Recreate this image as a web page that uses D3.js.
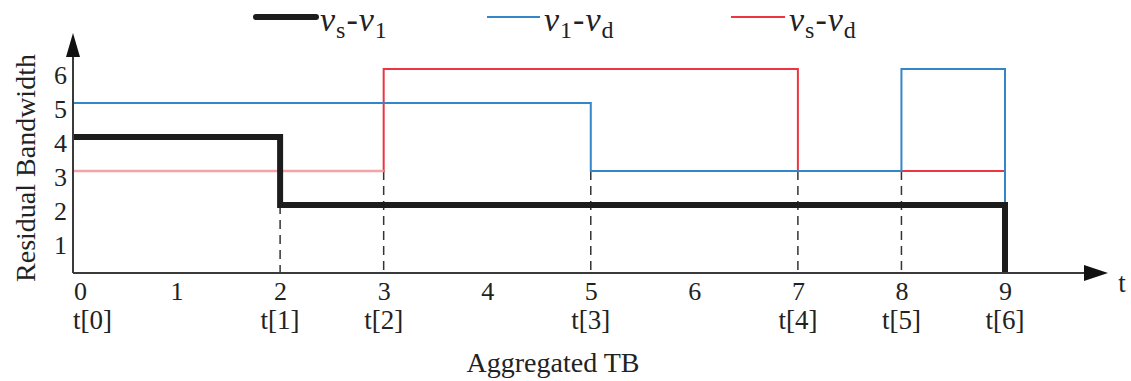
<!DOCTYPE html>
<html>
<head>
<meta charset="utf-8">
<script src="https://cdn.jsdelivr.net/npm/d3@7"></script>
<style>
  html, body { margin: 0; padding: 0; background: #fff; }
  svg { display: block; font-family: "Liberation Serif", "Times New Roman", serif; }
</style>
</head>
<body>
<svg id="chart" width="1131" height="381"></svg>
<script>
// Time axis ticks and the marked transmission instants
const xTicks = [0, 1, 2, 3, 4, 5, 6, 7, 8, 9];
const yTicks = [1, 2, 3, 4, 5, 6];
const tMarks = [0, 2, 3, 5, 7, 8, 9];
const tLabels = ["t[0]", "t[1]", "t[2]", "t[3]", "t[4]", "t[5]", "t[6]"];

// Residual bandwidth of each link pair (step changes at these times)
const vsV1Times = [0, 2, 9];
const vsV1Values = [4, 2, 0];
const v1VdTimes = [0, 5, 8, 9];
const v1VdValues = [5, 3, 6, 2];
const vsVdTimes = [0, 3, 7, 9];
const vsVdValues = [3, 6, 3, 3];

// Dashed guide lines: time and the level they rise to
const guideTimes = [2, 3, 5, 7, 8];
const guideLevels = [2, 3, 3, 3, 3];

const svg = d3.select("#chart");
const x = d3.scaleLinear().domain([0, 9]).range([73, 1005]);
const y = d3.scaleLinear().domain([0, 6]).range([273, 69]);

const axisColor = "#3a3a3a";
const textColor = "#222";

// Dashed guides
svg.append("g").selectAll("line")
  .data(guideTimes.map((t, i) => ({ t, v: guideLevels[i] })))
  .join("line")
  .attr("x1", d => x(d.t)).attr("x2", d => x(d.t))
  .attr("y1", d => y(d.v)).attr("y2", y(0))
  .attr("stroke", "#333").attr("stroke-width", 1.5)
  .attr("stroke-dasharray", "9,6");

const toPts = (ts, vs) => ts.map((t, i) => ({ t, v: vs[i] }));
const step = d3.line().x(d => x(d.t)).y(d => y(d.v)).curve(d3.curveStepAfter);

// v_s - v_d (red); the opening level is drawn paler
const redPts = toPts(vsVdTimes, vsVdValues);
svg.append("path").attr("d", step(redPts))
  .attr("fill", "none").attr("stroke", "#ec3540").attr("stroke-width", 2);
svg.append("path")
  .attr("d", d3.line().x(d => x(d.t)).y(d => y(d.v))([
    { t: vsVdTimes[0], v: vsVdValues[0] }, { t: vsVdTimes[1], v: vsVdValues[0] }]))
  .attr("fill", "none").attr("stroke", "#f5a3a6").attr("stroke-width", 2.5);

// v_1 - v_d (blue)
svg.append("path").attr("d", step(toPts(v1VdTimes, v1VdValues)))
  .attr("fill", "none").attr("stroke", "#3586c8").attr("stroke-width", 2);

// v_s - v_1 (black, thick)
svg.append("path").attr("d", step(toPts(vsV1Times, vsV1Values)))
  .attr("fill", "none").attr("stroke", "#1c1c1c").attr("stroke-width", 6)
  .attr("stroke-linejoin", "miter");

// Axes with arrowheads
const xEnd = 1108, yTop = 33;
svg.append("line").attr("x1", x(0)).attr("x2", xEnd - 20)
  .attr("y1", y(0)).attr("y2", y(0))
  .attr("stroke", axisColor).attr("stroke-width", 2);
svg.append("path")
  .attr("d", `M${xEnd},${y(0)} L${xEnd - 24},${y(0) - 8} L${xEnd - 24},${y(0) + 8} Z`)
  .attr("fill", "#111");
svg.append("line").attr("x1", x(0)).attr("x2", x(0))
  .attr("y1", y(0)).attr("y2", yTop + 20)
  .attr("stroke", axisColor).attr("stroke-width", 2);
svg.append("path")
  .attr("d", `M${x(0)},${yTop} L${x(0) - 7},${yTop + 24} L${x(0) + 7},${yTop + 24} Z`)
  .attr("fill", "#111");

// Tick labels
const xAxis = svg.append("g").attr("transform", `translate(0,${y(0)})`)
  .call(d3.axisBottom(x).tickValues(xTicks).tickSize(0).tickPadding(0).tickFormat(d3.format("d")));
xAxis.select(".domain").remove();
xAxis.selectAll("text")
  .attr("y", 27).attr("dy", null)
  .attr("dx", d => d === 0 ? 7 : 0)
  .attr("font-size", 26).attr("font-family", "Liberation Serif").attr("fill", textColor);

const yAxis = svg.append("g").attr("transform", `translate(${x(0)},0)`)
  .call(d3.axisLeft(y).tickValues(yTicks).tickSize(0).tickPadding(6).tickFormat(d3.format("d")));
yAxis.select(".domain").remove();
yAxis.selectAll("text")
  .attr("dy", "0.55em")
  .attr("font-size", 26).attr("font-family", "Liberation Serif").attr("fill", textColor);

// t[i] labels under the marked instants
svg.append("g").selectAll("text")
  .data(tMarks.map((t, i) => ({ t, label: tLabels[i] })))
  .join("text")
  .attr("x", d => x(d.t))
  .attr("y", 329)
  .attr("text-anchor", d => d.t === 0 ? "start" : "middle")
  .attr("font-size", 27).attr("fill", textColor)
  .text(d => d.label);

// Axis titles
svg.append("text").attr("x", 1122).attr("y", 292)
  .attr("text-anchor", "middle").attr("font-size", 27).attr("fill", textColor).text("t");
svg.append("text").attr("x", 553).attr("y", 372)
  .attr("text-anchor", "middle").attr("font-size", 28).attr("fill", textColor)
  .text("Aggregated TB");
svg.append("text")
  .attr("transform", "translate(35,168) rotate(-90)")
  .attr("text-anchor", "middle").attr("font-size", 28).attr("fill", textColor)
  .text("Residual Bandwidth");

// Legend
const legendItems = [
  { a: "s", b: "1", color: "#1c1c1c", width: 6, x0: 256, x1: 316 },
  { a: "1", b: "d", color: "#3586c8", width: 2, x0: 487, x1: 540 },
  { a: "s", b: "d", color: "#ec3540", width: 2, x0: 731, x1: 785 }
];
const lg = svg.append("g").selectAll("g").data(legendItems).join("g");
lg.append("line")
  .attr("x1", d => d.x0).attr("x2", d => d.x1)
  .attr("y1", 17).attr("y2", 17)
  .attr("stroke", d => d.color).attr("stroke-width", d => d.width)
  .attr("stroke-linecap", d => d.width > 3 ? "round" : "butt");
const lt = lg.append("text")
  .attr("x", d => d.x1 + 4).attr("y", 31)
  .attr("font-size", 34).attr("letter-spacing", 1).attr("fill", textColor);
lt.append("tspan").attr("font-style", "italic").text("v");
lt.append("tspan").attr("font-size", 24).attr("dy", 7).text(d => d.a);
lt.append("tspan").attr("dy", -7).text("-");
lt.append("tspan").attr("font-style", "italic").text("v");
lt.append("tspan").attr("font-size", 24).attr("dy", 7).text(d => d.b);
</script>
</body>
</html>
